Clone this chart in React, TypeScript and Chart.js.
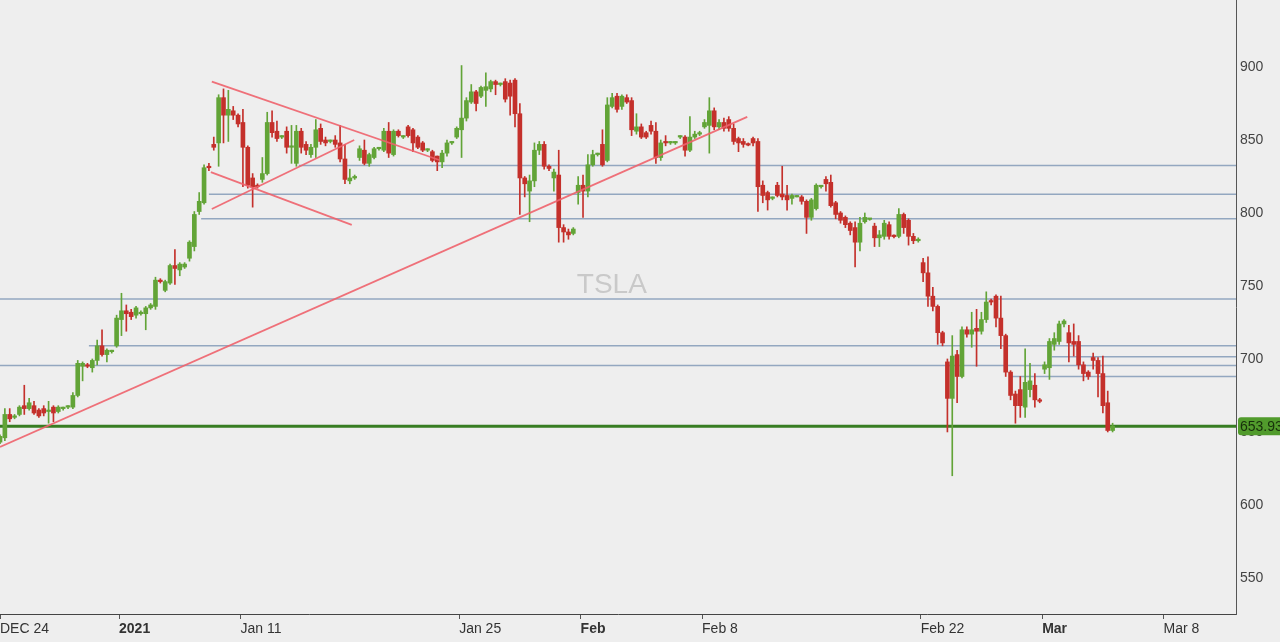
import React, { useEffect, useRef } from "react";
import { Chart, registerables } from "chart.js";

Chart.register(...registerables);

// ---- Candle data (5 intraday candles per trading day, Dec 24 2020 -> Mar 3 2021) ----
const opens = [
  643, 646, 662, 660, 662, 668, 666, 668, 665, 666, 664, 667, 664, 666, 667, 667, 675, 695, 696, 694,
  699, 709, 703, 705, 709, 727, 733, 732, 730, 731, 731, 735, 736, 754, 747, 752, 764, 761, 763, 769,
  777, 801, 807, 832, 847, 848, 879, 867, 870, 867, 862, 845, 824, 818.5, 823, 827, 862, 856, 852, 856,
  845, 834, 856, 847, 840, 845, 858, 850, 849, 850, 848, 837, 822, 824, 838, 843, 834, 838, 844, 843,
  856, 840, 856, 852, 859, 857, 852, 848, 843, 842, 839, 835, 841, 848, 852, 857, 865, 876, 883, 880,
  884, 885, 890, 888, 890, 889, 891, 868, 824, 815, 822, 843, 847, 832, 824, 826, 790, 787, 786, 814,
  819, 815, 833, 840, 847, 836, 873, 880, 873, 879, 877, 856, 859, 855, 860, 856, 838, 849, 848, 848,
  852, 852, 843, 852, 854, 859, 860, 870, 859, 862, 864, 858, 851, 849, 847, 851, 849, 819, 814, 810,
  819, 813, 812, 810, 811, 811, 808, 797, 803, 818, 823, 821, 807, 800, 797, 793, 790, 780, 794, 795.6,
  791, 783, 784, 792, 784, 784, 799, 795, 784, 781, 766, 759, 743, 736, 718, 698, 673, 703, 688, 720,
  717, 721, 719, 727, 740, 743, 728, 716, 691, 676, 679, 667, 679, 682, 672, 693, 694, 710, 712, 724,
  718, 712, 712, 696, 691, 701, 699, 690, 670, 651
];
const highs = [
  648, 666, 666, 662, 668, 682, 673, 671, 666, 668, 671, 668, 668, 667, 668, 677, 699, 698, 697, 700,
  713, 720, 707, 706, 730, 745, 737, 734, 736, 733, 736, 738, 756, 755, 754, 765, 775, 766, 766, 781,
  801, 814, 833, 834, 852, 881, 885, 884, 873, 868, 871, 846, 827, 820, 838, 869, 870, 863, 853, 859,
  860, 860, 858, 849, 847, 864, 861, 852, 850, 853, 860, 847, 830, 826, 846, 850, 841, 845, 845, 858,
  862, 857, 857, 853, 860, 858, 853, 849, 844, 843, 839, 843, 850, 849, 859, 901, 879, 888, 884, 887,
  896, 891, 891, 889, 892, 891, 892, 875, 825, 826, 848, 849, 849, 833, 830, 843, 792, 789, 790, 825,
  826, 840, 843, 841, 857, 879, 882, 882, 881, 881, 879, 868, 861, 856, 863, 862, 850, 853, 849, 849,
  853, 853, 866, 856, 856, 864, 879, 872, 864, 865, 866, 861, 852, 851, 848, 852, 851, 822, 815, 811,
  821, 832, 819, 813, 812, 812, 809, 810, 820, 819, 825, 826, 808, 801, 798, 794, 794, 797, 800, 796,
  793, 788, 795, 794, 785, 803, 800, 796, 786, 783, 769, 770, 749, 737, 719, 700, 716, 706, 722, 722,
  732, 734, 732, 746, 741, 744, 743, 717, 692, 678, 688, 707, 697, 690, 673, 698, 714, 718, 726, 727,
  723, 724, 716, 698, 692, 704, 701, 702, 678, 656
];
const lows = [
  642, 644, 657, 659, 661, 662, 665, 662, 660, 661, 656, 657, 663, 665, 666, 666, 674, 685, 694, 691,
  696, 702, 698, 704, 708, 716, 719, 727, 728, 730, 720, 734, 734, 752, 746, 751, 751, 757, 762, 767,
  774, 799, 806, 829, 843, 832, 848, 849, 864, 859, 818, 817, 804, 817, 821, 826, 852, 849, 851, 841,
  834, 832, 841, 840, 838, 838, 847, 846, 848, 845, 835, 820, 820, 823, 836, 833, 832, 837, 843, 842,
  838, 839, 852, 851, 852, 842, 844, 842, 842, 835, 829, 831, 839, 847, 851, 838, 863, 875, 870, 879,
  873, 883, 881, 887, 876, 867, 859, 799, 811, 794, 818, 840, 830, 829, 815, 780, 780, 782, 785, 806,
  797, 811, 832, 839, 832, 835, 872, 869, 871, 875, 853, 854, 851, 851, 854, 834, 836, 846, 847, 847,
  851, 839, 842, 851, 853, 858, 841, 857, 857, 856, 856, 847, 842, 845, 846, 846, 801, 807, 802, 809,
  811, 809, 802, 806, 811, 806, 786, 795, 802, 817, 815, 804, 796, 793, 790, 785, 763, 774, 793, 795,
  777, 777, 782, 782, 783, 783, 786, 778, 779, 780, 753, 736, 733, 710, 709, 650, 620, 670, 687, 715,
  708, 695, 717, 725, 737, 722, 707, 688, 672, 656, 660, 660, 674, 667, 670, 690, 686, 706, 710, 722,
  698, 702, 693, 685, 686, 693, 674, 663, 650, 650
];
const closes = [
  647, 662, 659, 661, 667, 666, 670, 663, 661, 663, 665, 663, 667, 666.5, 667.5, 675, 697, 697, 695, 699,
  709, 703, 706, 705.5, 728, 733, 731, 729, 735, 731.5, 735, 737, 754, 753, 753, 764, 762, 765, 765, 780,
  799, 808, 831, 831, 845, 879, 867, 871, 867, 861, 845, 819, 818, 818, 827, 862, 855, 851, 852.5, 845,
  846, 856, 845, 843, 845, 857, 849, 848, 849, 847, 837, 823, 824, 825, 844, 834, 840, 844, 844.5, 856,
  841, 856, 853, 852.5, 853, 848, 845, 843, 843, 836, 835, 841, 848, 848.5, 858, 865, 877, 883, 875, 886,
  886.5, 890, 888, 888.5, 878, 880, 868, 824, 820, 822, 843, 847, 832, 830.5, 828, 790, 787, 785, 789, 819,
  815, 833, 840, 840.5, 833, 874, 879, 871, 880, 876, 857, 859, 852, 852, 856, 838, 848, 848, 848.5, 848,
  852.3, 843, 852, 854, 855, 862, 870, 859, 862, 858, 858, 849, 848, 847, 846.5, 848, 818, 812, 809, 810.5,
  812, 811, 809, 812, 811.6, 808, 797, 809, 819, 818.5, 820, 805, 799, 795, 792, 788, 780, 793, 797, 795.8,
  783, 785, 793, 784, 783.8, 799, 790, 784, 781, 782, 759, 743, 736, 718, 711, 673, 702, 688, 720, 717,
  720, 719, 727, 739, 739, 728, 716, 691, 675, 668, 668, 684, 685, 672, 671, 696, 712, 714, 724, 726,
  711, 710, 696, 690, 688, 699, 690, 668, 651, 654
];

// ---- Axis labels ----
const tickDays = [0, 5, 10, 19, 24, 29, 38, 43, 48]; // trading-day number of each date tick
const tickLabels = ["DEC 24", "2021", "Jan 11", "Jan 25", "Feb", "Feb 8", "Feb 22", "Mar", "Mar 8"];
const boldLabels = ["2021", "Feb", "Mar"];
const yTicks = [550, 600, 650, 700, 750, 800, 850, 900];

// ---- Horizontal support / resistance levels (price, start position in candle slots) ----
const levelPrices = [832.5, 812.8, 796, 741, 709, 701.5, 695.5, 688];
const levelStarts = [62, 43.5, 41.9, 0.5, 18.8, 217, 0.5, 208.8];

// ---- Trend lines (start slot, start price, end slot, end price) ----
const trendStartX = [0.5, 44.1, 44.1, 43.9];
const trendStartY = [639.7, 890, 802.7, 828];
const trendEndX = [154.3, 90.9, 73.4, 72.9];
const trendEndY = [865.8, 836.3, 850, 791.8];

const lastPrice = 653.93;
const symbol = "TSLA";

const CANDLES_PER_DAY = 5;
const X_MIN = 0.5;
const X_MAX = 254.9;
const Y_MIN = 525.3;
const Y_MAX = 945.9;
const FONT = "'Liberation Sans', Arial, sans-serif";
const GREEN = "#62a437";
const RED = "#c4302b";
const BG = "#eeeeee";

export default function App() {
  const canvasRef = useRef<HTMLCanvasElement | null>(null);

  useEffect(() => {
    document.body.style.margin = "0";
    document.body.style.background = BG;
    const canvas = canvasRef.current;
    if (!canvas) return;

    const colors = closes.map((c, i) => (c >= opens[i] ? GREEN : RED));
    const wickData = highs.map((h, i) => ({ x: i + 0.5, y: [lows[i], h] }));
    const bodyData = opens.map((o, i) => ({ x: i + 0.5, y: [o, closes[i]] }));

    const levelSets = levelPrices.map((p, k) => ({
      type: "line" as const,
      data: [
        { x: levelStarts[k], y: p },
        { x: X_MAX, y: p },
      ],
      borderColor: "#93a7c0",
      borderWidth: 1.5,
      pointRadius: 0,
      order: 10,
    }));

    const trendSets = trendStartX.map((sx, k) => ({
      type: "line" as const,
      data: [
        { x: sx, y: trendStartY[k] },
        { x: trendEndX[k], y: trendEndY[k] },
      ],
      borderColor: "rgba(238, 98, 108, 0.9)",
      borderWidth: 1.8,
      pointRadius: 0,
      order: 1,
    }));

    const bgPlugin = {
      id: "bg",
      beforeDraw(chart: any) {
        const c = chart.ctx;
        c.save();
        c.fillStyle = BG;
        c.fillRect(0, 0, chart.width, chart.height);
        c.restore();
      },
    };

    const watermark = {
      id: "watermark",
      beforeDatasetsDraw(chart: any) {
        const a = chart.chartArea;
        const c = chart.ctx;
        c.save();
        c.fillStyle = "#c9c9c9";
        c.font = `28px ${FONT}`;
        c.textAlign = "center";
        c.textBaseline = "middle";
        c.fillText(symbol, a.left + (a.right - a.left) * 0.495, a.top + (a.bottom - a.top) * 0.465);
        c.restore();
      },
    };

    const priceTag = {
      id: "priceTag",
      afterDraw(chart: any) {
        const y = chart.scales.y.getPixelForValue(lastPrice);
        const x = chart.chartArea.right + 2;
        const c = chart.ctx;
        c.save();
        c.fillStyle = "#519b2c";
        c.beginPath();
        if ((c as any).roundRect) (c as any).roundRect(x, y - 9, 60, 18, 3);
        else c.rect(x, y - 9, 60, 18);
        c.fill();
        c.fillStyle = "#17300b";
        c.font = `14px ${FONT}`;
        c.textAlign = "left";
        c.textBaseline = "middle";
        c.fillText(lastPrice.toFixed(2), x + 2, y + 1);
        c.restore();
      },
    };

    const chart = new Chart(canvas, {
      type: "bar",
      data: {
        datasets: [
          ...levelSets,
          {
            type: "line" as const,
            data: [
              { x: X_MIN, y: lastPrice },
              { x: X_MAX, y: lastPrice },
            ],
            borderColor: "#377d22",
            borderWidth: 3,
            pointRadius: 0,
            order: 9,
          },
          {
            type: "bar" as const,
            data: wickData as any,
            backgroundColor: colors,
            barThickness: 1,
            grouped: false,
            order: 6,
          },
          {
            type: "bar" as const,
            data: bodyData as any,
            backgroundColor: colors,
            barThickness: 4,
            minBarLength: 1.5,
            grouped: false,
            order: 5,
          },
          ...trendSets,
        ] as any,
      },
      options: {
        animation: false,
        responsive: false,
        maintainAspectRatio: false,
        layout: { padding: 0 },
        plugins: { legend: { display: false }, tooltip: { enabled: false } },
        scales: {
          x: {
            type: "linear",
            min: X_MIN,
            max: X_MAX,
            offset: false,
            grid: {
              display: true,
              drawOnChartArea: false,
              drawTicks: true,
              tickLength: 5,
              color: "#555",
              offset: false,
            },
            border: { display: true, color: "#444", width: 1 },
            afterBuildTicks: (s: any) => {
              s.ticks = tickDays.map((d) => ({ value: Math.max(X_MIN, d * CANDLES_PER_DAY) }));
            },
            afterFit: (s: any) => {
              s.height = 28;
              s.paddingLeft = 0;
              s.paddingRight = 0;
              s.paddingTop = 0;
              s.paddingBottom = 0;
            },
            ticks: {
              autoSkip: false,
              maxRotation: 0,
              minRotation: 0,
              align: "start",
              padding: 2,
              color: "#333",
              font: (ctx: any) => ({
                family: FONT,
                size: 14,
                weight: ctx.tick && boldLabels.includes(ctx.tick.label) ? "bold" : "normal",
              }),
              callback: (_v: any, idx: number) => tickLabels[idx],
            },
          },
          y: {
            type: "linear",
            position: "right",
            min: Y_MIN,
            max: Y_MAX,
            grid: { display: false, drawTicks: false },
            border: { display: true, color: "#555", width: 1 },
            afterBuildTicks: (s: any) => {
              s.ticks = yTicks.map((v) => ({ value: v }));
            },
            afterFit: (s: any) => {
              s.width = 44;
              s.paddingTop = 0;
              s.paddingBottom = 0;
              s.paddingLeft = 0;
              s.paddingRight = 0;
            },
            ticks: {
              padding: 4,
              color: "#444",
              font: { family: FONT, size: 14 },
            },
          },
        },
      } as any,
      plugins: [bgPlugin, watermark, priceTag],
    });

    return () => chart.destroy();
  }, []);

  return (
    <div style={{ width: 1280, height: 642, background: BG }}>
      <canvas ref={canvasRef} width={1280} height={642} style={{ display: "block" }} />
    </div>
  );
}
